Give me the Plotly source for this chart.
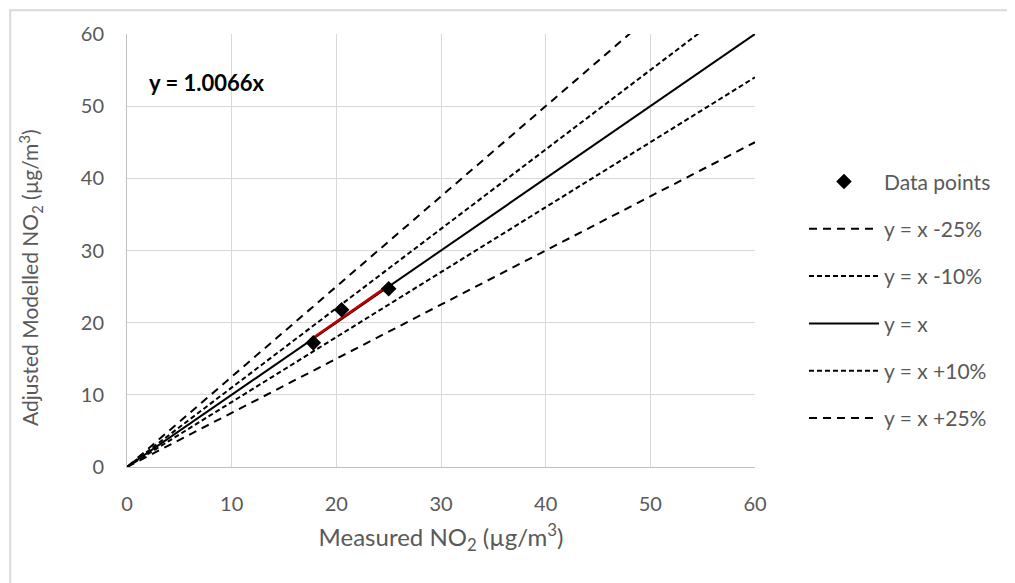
import plotly.graph_objects as go

# Data
measured = [17.8, 20.5, 25.0]
modelled = [17.2, 21.8, 24.7]
trend_slope = 1.0066
ref_names = ["y = x -25%", "y = x -10%", "y = x", "y = x +10%", "y = x +25%"]
ref_factors = [0.75, 0.90, 1.00, 1.10, 1.25]
ref_dashes = ["8px,6px", "5px,3px", "solid", "5px,3px", "8px,6px"]
x_range = [0, 60]
ticks = [0, 10, 20, 30, 40, 50, 60]

FONT = "Lato, Open Sans, Arial"
GRAY = "#595959"

fig = go.Figure()

for i, (nm, f, d) in enumerate(zip(ref_names, ref_factors, ref_dashes)):
    fig.add_trace(go.Scatter(
        x=x_range, y=[x * f for x in x_range], mode="lines", name=nm,
        line=dict(color="black", width=2, dash=d),
        legendgroup=f"g{i+1}", legendrank=i + 2,
    ))

tx = [min(measured), max(measured)]
fig.add_trace(go.Scatter(
    x=tx, y=[x * trend_slope for x in tx], mode="lines",
    line=dict(color="#c00000", width=2.5), showlegend=False,
))

fig.add_trace(go.Scatter(
    x=measured, y=modelled, mode="markers", name="Data points",
    marker=dict(symbol="diamond", size=12, color="black"),
    legendgroup="g0", legendrank=1, cliponaxis=False,
))

fig.add_annotation(
    x=1.9, y=53.3, xref="x", yref="y", text="<b>y = 1.0066x</b>",
    showarrow=False, xanchor="left", yanchor="middle",
    font=dict(family=FONT, size=22, color="black"),
)

# y-axis title (as annotation to match offset placement)
fig.add_annotation(
    x=-0.154, y=0.437, xref="paper", yref="paper",
    text="Adjusted Modelled NO<sub>2</sub> (µg/m<sup>3</sup>)",
    textangle=-90, showarrow=False, xanchor="center", yanchor="middle",
    font=dict(family=FONT, size=21, color=GRAY),
)

# outer chart border
fig.add_shape(type="rect", xref="paper", yref="paper",
              x0=-0.186, x1=1.6, y0=-0.6, y1=1.055,
              line=dict(color="#d9d9d9", width=2), layer="below")

axis_common = dict(
    range=[0, 60], tickvals=ticks, showgrid=True, gridcolor="#d9d9d9",
    gridwidth=1, zeroline=False, showline=True, linecolor="#bfbfbf",
    linewidth=1, ticks="", tickfont=dict(family=FONT, size=20, color=GRAY),
    fixedrange=True,
)

fig.update_layout(
    width=1015, height=583,
    margin=dict(l=119, r=268, t=26, b=124),
    paper_bgcolor="white", plot_bgcolor="white",
    xaxis=dict(**axis_common, ticklabelstandoff=19,
               title=dict(text="Measured NO<sub>2</sub> (µg/m<sup>3</sup>)",
                          font=dict(family=FONT, size=24, color=GRAY),
                          standoff=15)),
    yaxis=dict(**axis_common, ticklabelstandoff=18),
    legend=dict(x=1.078, y=0.386, xanchor="left", yanchor="middle",
                font=dict(family=FONT, size=21, color=GRAY),
                tracegroupgap=17, itemwidth=70, traceorder="grouped",
                bgcolor="rgba(0,0,0,0)"),
    showlegend=True,
)

fig.write_html("out.html")
